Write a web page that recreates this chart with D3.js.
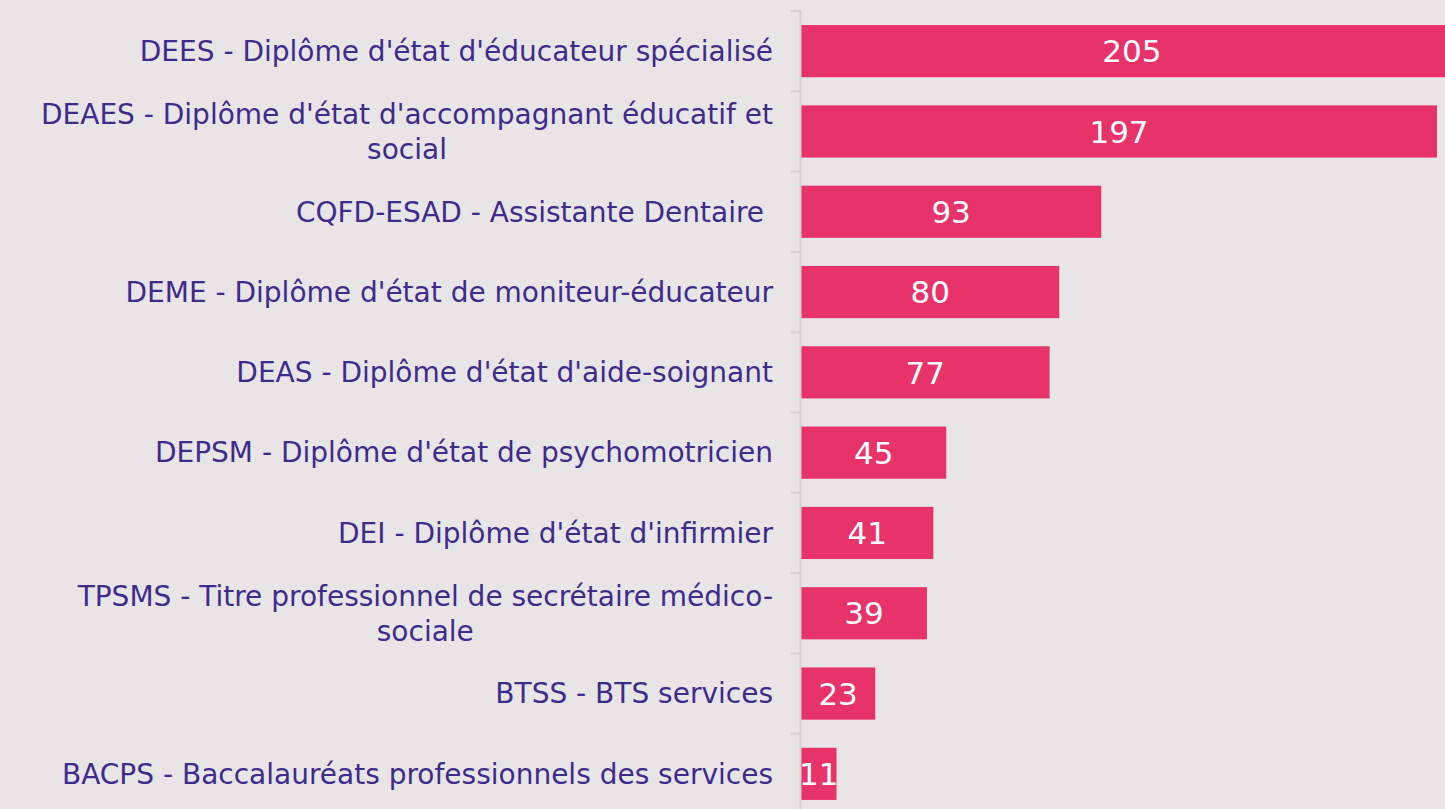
<!DOCTYPE html>
<html>
<head>
<meta charset="utf-8">
<script src="https://cdn.jsdelivr.net/npm/d3@7"></script>
<style>
  html, body { margin: 0; padding: 0; background: #e7e5e6; overflow: hidden; }
  svg { display: block; }
  text { white-space: pre; }
</style>
</head>
<body>
<svg id="chart" width="1445" height="809"></svg>
<script>
// Diplômes préparés — effectifs
const categories = [
  "DEES - Diplôme d'état d'éducateur spécialisé",
  "DEAES - Diplôme d'état d'accompagnant éducatif et social",
  "CQFD-ESAD - Assistante Dentaire ",
  "DEME - Diplôme d'état de moniteur-éducateur",
  "DEAS - Diplôme d'état d'aide-soignant",
  "DEPSM - Diplôme d'état de psychomotricien",
  "DEI - Diplôme d'état d'infirmier",
  "TPSMS - Titre professionnel de secrétaire médico-sociale",
  "BTSS - BTS services",
  "BACPS - Baccalauréats professionnels des services"
];
const values = [205, 197, 93, 80, 77, 45, 41, 39, 23, 11];

const axisX = 801;
const labelRight = 773;
const svg = d3.select("#chart");

const x = d3.scaleLinear().domain([0, 197]).range([axisX, 1437]);
const y = d3.scaleBand().domain(categories).range([11, 814]).paddingInner(0.35).paddingOuter(0.175);

const labelFont = "DejaVu Sans, sans-serif";

// Bars
svg.append("g").selectAll("rect")
  .data(values)
  .join("rect")
  .attr("x", x(0))
  .attr("y", (d, i) => y(categories[i]))
  .attr("width", d => x(d) - x(0))
  .attr("height", y.bandwidth())
  .attr("fill", "#e8336a");

// Category axis: vertical line with ticks at band boundaries
const axisG = svg.append("g");
const step = y.step();
axisG.append("line")
  .attr("x1", axisX - 0.5).attr("x2", axisX - 0.5)
  .attr("y1", 11).attr("y2", 814)
  .attr("stroke", "#d4d2d3").attr("stroke-width", 2);
axisG.selectAll("line.tick")
  .data(d3.range(categories.length + 1))
  .join("line")
  .attr("class", "tick")
  .attr("x1", axisX - 10).attr("x2", axisX)
  .attr("y1", i => 11 + i * step).attr("y2", i => 11 + i * step)
  .attr("stroke", "#d4d2d3").attr("stroke-width", 2);

// Category labels, wrapped to the available width
const maxW = 770;
const fs = 28, lh = 35;
const measure = svg.append("text").attr("font-family", labelFont).attr("font-size", fs).attr("visibility", "hidden");
function textW(s) { measure.text(s); return measure.node().getComputedTextLength(); }
function wrap(s) {
  // break at spaces, and after hyphens inside words
  const tokens = s.match(/[^\s-]+-?|\s+|-/g) || [];
  const lines = [];
  let cur = "";
  tokens.forEach(t => {
    const cand = cur + t;
    if (cur.trim() !== "" && textW(cand.trimEnd()) > maxW && t.trim() !== "") {
      lines.push(cur.trimEnd());
      cur = t.trimStart();
    } else {
      cur = cand;
    }
  });
  if (cur.trim() !== "") lines.push(cur);
  return lines;
}

const labels = svg.append("g")
  .attr("font-family", labelFont)
  .attr("font-size", fs)
  .attr("fill", "#3f2b8b")
  .attr("text-anchor", "middle");

categories.forEach(c => {
  const lines = wrap(c);
  const blockW = d3.max(lines, textW);
  const cx = labelRight - blockW / 2;
  const cy = y(c) + y.bandwidth() / 2;
  const t = labels.append("text")
    .attr("x", cx)
    .attr("y", cy - (lines.length - 1) * lh / 2);
  lines.forEach((ln, j) => {
    t.append("tspan").attr("x", cx).attr("dy", j === 0 ? "0.35em" : lh).text(ln);
  });
});
measure.remove();

// Value labels centered in each bar
svg.append("g")
  .attr("font-family", labelFont)
  .attr("font-size", 31)
  .attr("fill", "#ffffff")
  .attr("text-anchor", "middle")
  .selectAll("text")
  .data(values)
  .join("text")
  .attr("x", d => (x(0) + x(d)) / 2)
  .attr("y", (d, i) => y(categories[i]) + y.bandwidth() / 2)
  .attr("dy", "0.36em")
  .text(d => d);
</script>
</body>
</html>
